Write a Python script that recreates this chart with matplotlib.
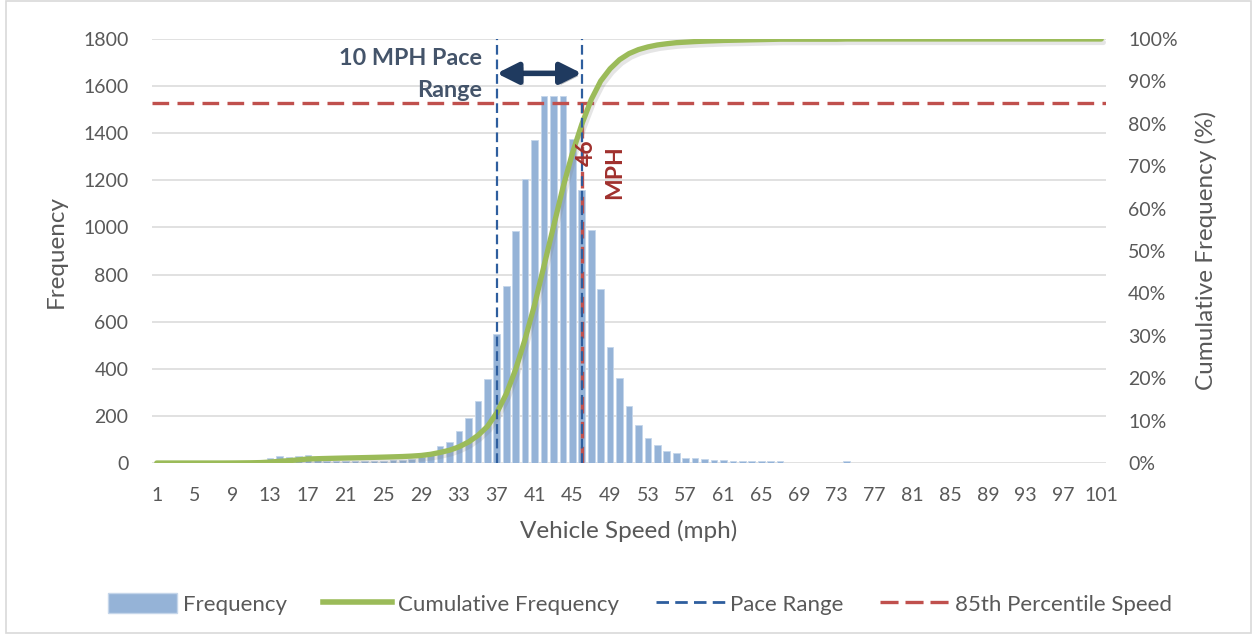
import matplotlib
matplotlib.use("Agg")
import matplotlib.pyplot as plt
import matplotlib.patheffects as pe
from matplotlib.patches import Rectangle, FancyArrowPatch
from matplotlib.lines import Line2D
from matplotlib.patches import Patch
from matplotlib.ticker import FuncFormatter
import numpy as np

plt.rcParams["font.family"] = ["Lato", "DejaVu Sans"]
plt.rcParams["lines.scale_dashes"] = False

# Speed bins (mph) and observed vehicle counts per bin
speeds = list(range(1, 102))
counts = (
    [0, 0, 0, 0, 0, 0, 0, 0, 2, 3, 4, 8]                  # 1-12
    + [21, 31, 25, 31, 35]                                # 13-17
    + [12, 10, 9, 9, 8, 8, 9, 10, 11, 12, 18, 25]         # 18-29
    + [47, 73, 89, 135, 191, 262, 356, 549]               # 30-37
    + [750, 986, 1205, 1371, 1556, 1556, 1556, 1375, 1160]  # 38-46
    + [989, 740, 492, 361, 243, 160, 107, 78, 49, 42]     # 47-56
    + [22, 22, 17, 14, 14, 8, 8, 9, 8, 8, 9]              # 57-67
    + [0, 0, 0, 0, 0, 0, 8]                               # 68-74
    + [0] * 27                                            # 75-101
)
x_tick_labels = [str(s) for s in range(1, 102, 4)]
left_ticks = list(range(0, 1801, 200))
right_ticks = list(range(0, 101, 10))

pace_low, pace_high = 37, 46        # 10 mph pace range
p85_speed = 46                      # 85th percentile speed
p85_level = 85                      # percent

counts_arr = np.array(counts, dtype=float)
cum_pct = np.cumsum(counts_arr) / counts_arr.sum() * 100

bar_color = "#95B3D7"
green = "#9BBB59"
blue_dash = "#2E5E9E"
red = "#C0504D"
text_gray = "#595959"
grid_gray = "#D9D9D9"

fig = plt.figure(figsize=(12.53, 6.41), dpi=100)
ax = fig.add_axes([152 / 1253, 1 - 463 / 641, (1106 - 152) / 1253, (463 - 39) / 641])
ax2 = ax.twinx()

# frequency bars
ax.bar(speeds, counts, width=0.7, color=bar_color, edgecolor="#C5D6EA",
       linewidth=0.6, zorder=2)
ax.set_xlim(0.5, 101.5)
ax.set_ylim(0, 1800)
ax.set_yticks(left_ticks)
ax.set_xticks(range(1, 102, 4))
ax.set_xticklabels(x_tick_labels)
ax.grid(axis="y", color=grid_gray, linewidth=1.1, zorder=0)
ax.set_axisbelow(True)
for s in ax.spines.values():
    s.set_visible(False)
for s in ax2.spines.values():
    s.set_visible(False)
ax.tick_params(axis="both", length=0, labelsize=14, colors=text_gray)
ax.tick_params(axis="x", pad=17)
ax.tick_params(axis="y", pad=17)
ax.set_xlabel("Vehicle Speed (mph)", fontsize=17.5, color=text_gray, labelpad=12)
ax.set_ylabel("Frequency", fontsize=17.5, color=text_gray, labelpad=12)

# cumulative curve on the secondary axis
ax2.set_ylim(0, 100)
ax2.set_yticks(right_ticks)
ax2.yaxis.set_major_formatter(FuncFormatter(lambda v, p: f"{int(v)}%"))
ax2.tick_params(axis="y", length=0, labelsize=14, colors=text_gray, pad=16)
ax2.set_ylabel("Cumulative Frequency (%)", fontsize=17.5, color=text_gray, labelpad=12)

ax2.plot(speeds, cum_pct, color=green, linewidth=3.8, solid_capstyle="round", zorder=5,
         path_effects=[pe.SimpleLineShadow(offset=(1.5, -2.5), shadow_color="gray", alpha=0.2),
                       pe.Normal()])

# 85th percentile markers
ax2.plot([0.5, 101.5], [p85_level, p85_level], color=red, linewidth=2.4,
         dashes=(12, 6), zorder=4)
ax2.plot([p85_speed, p85_speed], [0, p85_level], color=red, linewidth=2.4,
         dashes=(12, 6), zorder=4)

# pace range boundaries
for sp in (pace_low, pace_high):
    ax2.plot([sp, sp], [0, 100], color=blue_dash, linewidth=1.6, dashes=(7, 3.5), zorder=6)

# pace range arrow
arrow = FancyArrowPatch((pace_low, 91.9), (pace_high, 91.9), arrowstyle="<|-|>",
                        mutation_scale=32, color="#1F3A5F", linewidth=4,
                        shrinkA=0, shrinkB=0, zorder=7,
                        path_effects=[pe.SimplePatchShadow(offset=(2, -2), alpha=0.3),
                                      pe.Normal()])
ax2.add_patch(arrow)

ax2.text(35.4, 93.9, "10 MPH Pace", ha="right", va="baseline", fontsize=16.8,
         fontweight="bold", color="#44546A", zorder=8)
ax2.text(35.4, 86.3, "Range", ha="right", va="baseline", fontsize=16.8,
         fontweight="bold", color="#44546A", zorder=8)

ax2.text(46.5, 73.2, "46", rotation=90, ha="center", va="center", fontsize=16.5,
         fontweight="bold", color="#A0302D", zorder=8)
ax2.text(49.5, 68.6, "MPH", rotation=90, ha="center", va="center", fontsize=16.5,
         fontweight="bold", color="#A0302D", zorder=8)

# legend
handles = [
    Patch(facecolor=bar_color, edgecolor="#C5D6EA"),
    Line2D([], [], color=green, linewidth=4),
    Line2D([], [], color=blue_dash, linewidth=2, dashes=(9, 4.5)),
    Line2D([], [], color=red, linewidth=2.4, dashes=(13, 5)),
]
labels = ["Frequency", "Cumulative Frequency", "Pace Range", "85th Percentile Speed"]
leg = fig.legend(handles, labels, loc="center", bbox_to_anchor=(640 / 1253, 1 - 604 / 641),
                 ncol=4, frameon=False, fontsize=16, handlelength=3.1, handleheight=1.0,
                 columnspacing=1.66, handletextpad=0.25)
for t in leg.get_texts():
    t.set_color(text_gray)

# chart border
fig.patches.append(Rectangle((6 / 1253, 1 - 633 / 641), (1251 - 6) / 1253, 632 / 641,
                             transform=fig.transFigure, fill=False, edgecolor=grid_gray,
                             linewidth=1.2))

fig.savefig("out.png", dpi=100)
